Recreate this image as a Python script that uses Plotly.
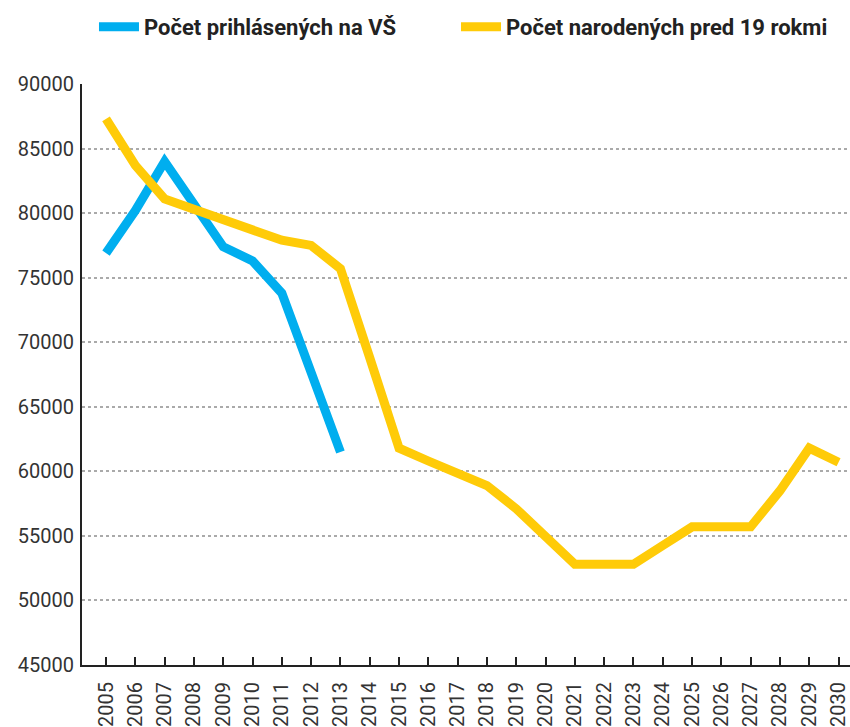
import plotly.graph_objects as go

years = list(range(2005, 2031))
applicants_years = list(range(2005, 2014))
applicants = [76900, 80200, 84000, 80700, 77400, 76300, 73800, 67650, 61500]
born_19_years_ago = [87300, 83700, 81100, 80300, 79500, 78700, 77900, 77500, 75700,
                     68800, 61800, 60800, 59800, 58900, 57100, 55000, 52800, 52800,
                     52800, 54250, 55700, 55700, 55700, 58500, 61800, 60700]
y_ticks = list(range(45000, 90001, 5000))

BLUE = "#00AEEF"
YELLOW = "#FFCB08"

fig = go.Figure()
fig.add_trace(go.Scatter(x=applicants_years, y=applicants, mode="lines",
                         name="Počet prihlásených na VŠ", legend="legend",
                         line=dict(color=BLUE, width=9)))
fig.add_trace(go.Scatter(x=years, y=born_19_years_ago, mode="lines",
                         name="Počet narodených pred 19 rokmi", legend="legend2",
                         line=dict(color=YELLOW, width=9)))

legend_font = dict(family="Roboto", size=22, color="#222222", weight="bold")

fig.update_layout(
    width=850, height=727,
    margin=dict(l=82, r=0, t=84, b=62, autoexpand=False),
    paper_bgcolor="white", plot_bgcolor="white",
    font=dict(family="Roboto", color="#333333", size=20),
    showlegend=True,
    legend=dict(orientation="h", x=0.0156, xanchor="left", y=1.098, yanchor="middle",
                font=legend_font, itemwidth=40, bgcolor="rgba(0,0,0,0)"),
    legend2=dict(orientation="h", x=0.487, xanchor="left", y=1.098, yanchor="middle",
                 font=legend_font, itemwidth=40, bgcolor="rgba(0,0,0,0)"),
    xaxis=dict(range=[2004.18, 2030.39], tickmode="array", tickvals=years,
               ticktext=[str(y) for y in years], tickangle=-90,
               ticks="inside", ticklen=8, tickwidth=2, tickcolor="#222222",
               showline=True, linecolor="#222222", linewidth=2,
               showgrid=False, zeroline=False, automargin=False,
               ticklabeloverflow="allow", ticklabelstandoff=7,
               tickfont=dict(family="Roboto", size=20, color="#333333")),
    yaxis=dict(range=[45000, 90000], tickmode="array", tickvals=y_ticks,
               tickformat="d", ticks="", showline=True, linecolor="#222222",
               linewidth=2, showgrid=True, gridcolor="#aaaaaa", gridwidth=1.5,
               griddash="dot", zeroline=False, automargin=False, ticklabelstandoff=2,
               tickfont=dict(family="Roboto", size=20, color="#333333")),
)

fig.write_html("out.html", config={"displayModeBar": False},
               post_script="document.body.style.margin='0';")
